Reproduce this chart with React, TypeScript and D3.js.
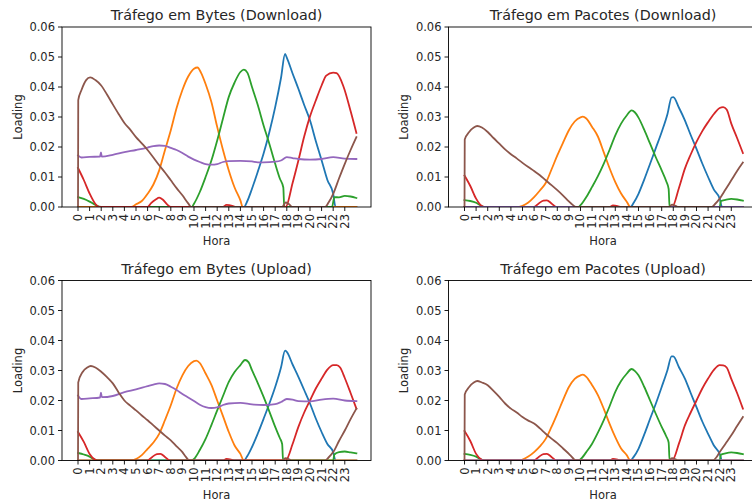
import React from "react";
import * as d3 from "d3";

type P = [number, number];

const hourTicks: number[] = [0, 1, 2, 3, 4, 5, 6, 7, 8, 9, 10, 11, 12, 13, 14, 15, 16, 17, 18, 19, 20, 21, 22, 23];
const yTicks: number[] = [0, 0.01, 0.02, 0.03, 0.04, 0.05, 0.06];
const panelTitles: string[] = [
  "Tráfego em Bytes (Download)",
  "Tráfego em Pacotes (Download)",
  "Tráfego em Bytes (Upload)",
  "Tráfego em Pacotes (Upload)",
];
const seriesColors: string[] = ["#1f77b4", "#ff7f0e", "#2ca02c", "#d62728", "#9467bd", "#8c564b"];

// Panel 1: Bytes Download
const bdBlue: P[] = [[0,0],[14.3,0],[14.6,0.002],[15,0.0061],[15.5,0.0118],[16,0.0178],[16.5,0.025],[17,0.0333],[17.5,0.043],[17.85,0.051],[18,0.0498],[18.5,0.0445],[19,0.0394],[19.5,0.034],[20,0.0289],[20.5,0.022],[21,0.0156],[21.5,0.009],[22,0.0044],[22.2,0],[24,0]];
const bdOrange: P[] = [[0,0],[4.6,0],[5,0.0009],[5.5,0.002],[6,0.0044],[6.5,0.0075],[7,0.0122],[7.5,0.019],[8,0.0256],[8.5,0.033],[9,0.039],[9.5,0.0435],[10,0.0461],[10.3,0.0465],[10.6,0.0448],[11,0.041],[11.5,0.035],[12,0.0267],[12.5,0.019],[13,0.0122],[13.5,0.0065],[14,0.0022],[14.2,0],[24,0]];
const bdGreen: P[] = [[0,0.0033],[0.5,0.0027],[1,0.0018],[1.5,0.0007],[2,0],[9.8,0],[10,0.0011],[10.5,0.005],[11,0.01],[11.5,0.0155],[12,0.0222],[12.5,0.0295],[13,0.0367],[13.5,0.0415],[14,0.045],[14.3,0.0458],[14.6,0.0448],[15,0.04],[15.5,0.034],[16,0.0272],[16.5,0.021],[17,0.0144],[17.4,0.0095],[17.7,0.0065],[17.78,0],[21.9,0],[22.1,0.0033],[22.5,0.0032],[23,0.0037],[23.5,0.0035],[24,0.003]];
const bdRed: P[] = [[0,0.013],[0.5,0.009],[1,0.0045],[1.5,0.001],[1.8,0],[6,0],[6.3,0.0013],[6.7,0.0025],[7,0.0031],[7.3,0.0025],[7.7,0.0008],[8,0],[12.5,0],[12.8,0.0007],[13.3,0.0004],[13.6,0],[17.9,0],[18.5,0.008],[19,0.0155],[19.5,0.0235],[20,0.0302],[20.5,0.0355],[21,0.0405],[21.4,0.0438],[22,0.0448],[22.3,0.0446],[22.9,0.04],[23.5,0.032],[24,0.0247]];
const bdPurple: P[] = [[0,0.0172],[0.3,0.0165],[1,0.0167],[1.9,0.0168],[1.98,0.0182],[2.05,0.0168],[3,0.0174],[4,0.0183],[5,0.019],[6,0.0198],[6.5,0.0203],[7,0.0205],[7.5,0.0204],[8,0.0197],[8.5,0.019],[9,0.018],[9.5,0.0168],[10,0.0158],[10.5,0.015],[11,0.0143],[11.5,0.0141],[12,0.0143],[12.5,0.015],[13,0.0153],[14,0.0154],[15,0.0152],[15.5,0.0149],[16,0.0149],[17,0.0151],[17.5,0.0155],[18,0.0166],[18.5,0.0163],[19,0.016],[20,0.0158],[21,0.016],[22,0.0166],[23,0.0161],[24,0.016]];
const bdBrown: P[] = [[0,0],[0.02,0.0356],[0.3,0.039],[0.7,0.0423],[1.05,0.0432],[1.5,0.0423],[2,0.0405],[2.5,0.0375],[3,0.0342],[3.5,0.031],[4,0.028],[4.5,0.0258],[5,0.0233],[5.5,0.0212],[6,0.019],[6.5,0.0165],[7,0.0139],[7.5,0.0115],[8,0.0089],[8.5,0.0063],[9,0.0039],[9.5,0.0012],[9.75,0],[17.6,0],[17.9,0.0015],[18.2,0.0009],[18.5,0],[21.3,0],[21.6,0.0015],[22,0.0044],[22.5,0.0095],[23,0.0144],[23.5,0.019],[24,0.0233]];

// Panel 2: Pacotes Download
const pdBlue: P[] = [[0,0],[14.3,0],[14.6,0.0015],[15,0.0044],[15.5,0.0092],[16,0.0144],[16.5,0.0197],[17,0.025],[17.5,0.031],[17.85,0.0365],[18,0.0366],[18.5,0.033],[19,0.0289],[19.5,0.024],[20,0.0194],[20.5,0.0145],[21,0.01],[21.5,0.0058],[22,0.0028],[22.2,0],[24,0]];
const pdOrange: P[] = [[0,0],[4.7,0],[5,0.0004],[5.5,0.0015],[6,0.0033],[6.5,0.0055],[7,0.008],[7.5,0.0125],[8,0.0172],[8.5,0.0215],[9,0.0256],[9.5,0.0285],[10,0.0299],[10.2,0.0301],[10.5,0.0295],[11,0.0267],[11.5,0.0235],[12,0.0183],[12.5,0.013],[13,0.0083],[13.5,0.0045],[14,0.0017],[14.3,0],[24,0]];
const pdGreen: P[] = [[0,0.0023],[0.5,0.002],[1,0.0014],[1.4,0.0005],[1.7,0],[9.8,0],[10,0.0006],[10.5,0.0033],[11,0.0067],[11.5,0.0103],[12,0.0144],[12.5,0.019],[13,0.0239],[13.5,0.0278],[14,0.0306],[14.4,0.0322],[14.7,0.0315],[15,0.0298],[15.5,0.0257],[16,0.0211],[16.5,0.0165],[17,0.0122],[17.4,0.0085],[17.6,0.006],[17.68,0],[22,0],[22.1,0.002],[22.5,0.0024],[23,0.0027],[23.5,0.0025],[24,0.0021]];
const pdRed: P[] = [[0,0.0105],[0.5,0.007],[1,0.0028],[1.5,0.0003],[1.7,0],[6,0],[6.4,0.0012],[6.8,0.0021],[7.1,0.0022],[7.5,0.0012],[7.9,0],[12.5,0],[12.8,0.0005],[13.2,0.0003],[13.5,0],[17.9,0],[18.5,0.0065],[19,0.0128],[19.5,0.0175],[20,0.0217],[20.5,0.0253],[21,0.0283],[21.5,0.031],[22,0.033],[22.3,0.0333],[22.6,0.0325],[23,0.0278],[23.5,0.023],[24,0.018]];
const pdPurple: P[] = [[0,0],[24,0]];
const pdBrown: P[] = [[0,0],[0.02,0.0225],[0.4,0.025],[0.8,0.0265],[1.1,0.027],[1.5,0.0265],[2,0.025],[2.5,0.023],[3,0.0211],[3.5,0.0192],[4,0.0176],[4.5,0.0162],[5,0.0147],[5.5,0.0133],[6,0.012],[6.5,0.0106],[7,0.0089],[7.5,0.0073],[8,0.0056],[8.5,0.0038],[9,0.0019],[9.3,0.0008],[9.6,0],[17.6,0],[17.9,0.0008],[18.2,0.0004],[18.4,0],[21.3,0],[21.6,0.001],[22,0.0028],[22.5,0.0058],[23,0.0089],[23.5,0.012],[24,0.0148]];

// Panel 3: Bytes Upload
const buBlue: P[] = [[0,0],[14.3,0],[14.6,0.0015],[15,0.0045],[15.5,0.009],[16,0.0139],[16.5,0.019],[17,0.0245],[17.5,0.031],[17.85,0.0366],[18,0.0362],[18.5,0.032],[19,0.0279],[19.5,0.0235],[20,0.019],[20.5,0.014],[21,0.0095],[21.5,0.0055],[22,0.0028],[22.2,0],[24,0]];
const buOrange: P[] = [[0,0],[4.6,0],[5,0.0005],[5.5,0.0018],[6,0.0039],[6.5,0.006],[7,0.0089],[7.5,0.0135],[8,0.0184],[8.5,0.024],[9,0.0284],[9.5,0.0315],[10,0.0331],[10.2,0.0333],[10.5,0.0325],[11,0.029],[11.5,0.0252],[12,0.02],[12.5,0.0148],[13,0.0095],[13.5,0.005],[14,0.0022],[14.3,0],[24,0]];
const buGreen: P[] = [[0,0.0025],[0.5,0.002],[1,0.0013],[1.4,0.0004],[1.7,0],[9.8,0],[10,0.0005],[10.5,0.0035],[11,0.0072],[11.5,0.0118],[12,0.0167],[12.5,0.0215],[13,0.0262],[13.5,0.0295],[14,0.0318],[14.4,0.0335],[14.7,0.0328],[15,0.0301],[15.5,0.0258],[16,0.0212],[16.5,0.0163],[17,0.0112],[17.4,0.0075],[17.6,0.0055],[17.68,0],[22,0],[22.1,0.002],[22.5,0.0028],[23,0.003],[23.5,0.0027],[24,0.0024]];
const buRed: P[] = [[0,0.0095],[0.5,0.0062],[1,0.0022],[1.5,0.0002],[1.7,0],[6,0],[6.4,0.0012],[6.8,0.0021],[7.1,0.0022],[7.5,0.0012],[7.9,0],[12.5,0],[12.8,0.0005],[13.2,0.0003],[13.5,0],[17.9,0],[18.5,0.0055],[19,0.0112],[19.5,0.016],[20,0.02],[20.5,0.024],[21,0.0273],[21.5,0.0303],[22,0.0318],[22.3,0.0318],[22.6,0.031],[23,0.0275],[23.5,0.0225],[24,0.0173]];
const buPurple: P[] = [[0,0.0217],[0.3,0.0205],[1,0.0207],[1.9,0.021],[1.98,0.0226],[2.05,0.0211],[3,0.0215],[4,0.0228],[5,0.0237],[6,0.0248],[6.5,0.0253],[7,0.0257],[7.5,0.0255],[8,0.0246],[8.5,0.0235],[9,0.0222],[9.5,0.021],[10,0.0198],[10.5,0.0186],[11,0.0178],[11.5,0.0175],[12,0.0177],[12.5,0.0185],[13,0.019],[14,0.0192],[15,0.0187],[16,0.0185],[17,0.0188],[17.5,0.0195],[18,0.0205],[18.5,0.0203],[19,0.0198],[20,0.0197],[21,0.0203],[22,0.0206],[23,0.02],[24,0.0198]];
const buBrown: P[] = [[0,0],[0.02,0.026],[0.4,0.0295],[0.8,0.031],[1.1,0.0315],[1.5,0.031],[2,0.0296],[2.5,0.0278],[3,0.0257],[3.5,0.0227],[4,0.02],[4.5,0.0183],[5,0.0167],[5.5,0.015],[6,0.0134],[6.5,0.0117],[7,0.01],[7.5,0.0083],[8,0.0067],[8.5,0.0047],[9,0.0028],[9.3,0.0012],[9.6,0],[17.6,0],[17.9,0.0008],[18.2,0.0004],[18.4,0],[21.3,0],[21.6,0.001],[22,0.0028],[22.5,0.0065],[23,0.01],[23.5,0.0138],[24,0.0173]];

// Panel 4: Pacotes Upload
const puBlue: P[] = [[0,0],[14.3,0],[14.6,0.0013],[15,0.0039],[15.5,0.0087],[16,0.0139],[16.5,0.019],[17,0.0245],[17.5,0.0302],[17.85,0.0347],[18,0.0347],[18.5,0.031],[19,0.0273],[19.5,0.0225],[20,0.0178],[20.5,0.013],[21,0.0089],[21.5,0.005],[22,0.0022],[22.2,0],[24,0]];
const puOrange: P[] = [[0,0],[4.7,0],[5,0.0003],[5.5,0.0013],[6,0.0028],[6.5,0.0047],[7,0.0072],[7.5,0.0112],[8,0.0156],[8.5,0.0202],[9,0.0245],[9.5,0.0272],[10,0.0284],[10.2,0.0286],[10.5,0.0279],[11,0.0251],[11.5,0.0218],[12,0.0173],[12.5,0.0123],[13,0.0078],[13.5,0.004],[14,0.0017],[14.3,0],[24,0]];
const puGreen: P[] = [[0,0.0022],[0.5,0.0019],[1,0.0013],[1.4,0.0004],[1.7,0],[9.8,0],[10,0.0004],[10.5,0.0028],[11,0.0056],[11.5,0.0093],[12,0.0134],[12.5,0.018],[13,0.0229],[13.5,0.0265],[14,0.029],[14.4,0.0305],[14.7,0.0298],[15,0.0284],[15.5,0.0245],[16,0.02],[16.5,0.0155],[17,0.0112],[17.4,0.008],[17.6,0.006],[17.68,0],[22,0],[22.1,0.0019],[22.5,0.0024],[23,0.0027],[23.5,0.0025],[24,0.0021]];
const puRed: P[] = [[0,0.0098],[0.5,0.0065],[1,0.0022],[1.5,0.0002],[1.7,0],[6,0],[6.4,0.0012],[6.8,0.0021],[7.1,0.0022],[7.5,0.0012],[7.9,0],[12.5,0],[12.8,0.0005],[13.2,0.0003],[13.5,0],[17.9,0],[18.5,0.0058],[19,0.0117],[19.5,0.016],[20,0.02],[20.5,0.024],[21,0.0273],[21.5,0.0302],[22,0.0318],[22.3,0.0317],[22.6,0.031],[23,0.0272],[23.5,0.0225],[24,0.0173]];
const puPurple: P[] = [[0,0],[24,0]];
const puBrown: P[] = [[0,0],[0.02,0.022],[0.4,0.0245],[0.8,0.026],[1.1,0.0265],[1.5,0.026],[2,0.0251],[2.5,0.0232],[3,0.0212],[3.5,0.019],[4,0.0173],[4.5,0.016],[5,0.0145],[5.5,0.0133],[6,0.0123],[6.5,0.0107],[7,0.0089],[7.5,0.0073],[8,0.0058],[8.5,0.004],[9,0.0022],[9.3,0.001],[9.6,0],[17.6,0],[17.9,0.0008],[18.2,0.0004],[18.4,0],[21.4,0],[21.7,0.001],[22,0.0028],[22.5,0.0056],[23,0.0084],[23.5,0.0115],[24,0.0145]];

const panelSeries: P[][][] = [
  [bdBlue, bdOrange, bdGreen, bdRed, bdPurple, bdBrown],
  [pdBlue, pdOrange, pdGreen, pdRed, pdPurple, pdBrown],
  [buBlue, buOrange, buGreen, buRed, buPurple, buBrown],
  [puBlue, puOrange, puGreen, puRed, puPurple, puBrown],
];

const W = 752;
const H = 502;
const PW = 309;
const PH = 180;
const lefts = [62, 448.5];
const tops = [27, 280.5];
const FONT = "DejaVu Sans, sans-serif";
const TXT = "#262626";

function Panel({ idx }: { idx: number }) {
  const left = lefts[idx % 2];
  const top = tops[Math.floor(idx / 2)];
  const x = d3.scaleLinear().domain([-1.38, 25.26]).range([left, left + PW]);
  const y = d3.scaleLinear().domain([0, 0.06]).range([top + PH, top]);
  const line = d3
    .line<P>()
    .x((d) => x(d[0]))
    .y((d) => y(d[1]))
    .curve(d3.curveMonotoneX);
  const clipId = `clip${idx}`;
  const fmt = d3.format(".2f");
  return (
    <g>
      <defs>
        <clipPath id={clipId}>
          <rect x={left} y={top - 2} width={PW} height={PH + 2} />
        </clipPath>
      </defs>
      <g clipPath={`url(#${clipId})`}>
        {panelSeries[idx].map((s, i) => (
          <path
            key={i}
            d={line(s) || ""}
            fill="none"
            stroke={seriesColors[i]}
            strokeWidth={1.8}
            strokeLinejoin="round"
            strokeLinecap="square"
          />
        ))}
      </g>
      <rect x={left} y={top} width={PW} height={PH} fill="none" stroke="#000" strokeWidth={0.9} />
      {yTicks.map((t) => (
        <g key={t}>
          <line x1={left - 4} x2={left} y1={y(t)} y2={y(t)} stroke="#000" strokeWidth={0.9} />
          <text
            x={left - 7}
            y={y(t)}
            textAnchor="end"
            dominantBaseline="central"
            fontFamily={FONT}
            fontSize={11.5}
            fill={TXT}
          >
            {fmt(t)}
          </text>
        </g>
      ))}
      {hourTicks.map((h) => (
        <g key={h}>
          <line x1={x(h)} x2={x(h)} y1={top + PH} y2={top + PH + 4} stroke="#000" strokeWidth={0.9} />
          <text
            transform={`translate(${x(h)},${top + PH + 7}) rotate(-90)`}
            textAnchor="end"
            dominantBaseline="central"
            fontFamily={FONT}
            fontSize={11.5}
            fill={TXT}
          >
            {String(h)}
          </text>
        </g>
      ))}
      <text
        x={left + PW / 2}
        y={top + PH + 38}
        textAnchor="middle"
        fontFamily={FONT}
        fontSize={11.5}
        fill={TXT}
      >
        Hora
      </text>
      <text
        transform={`translate(${left - 44.5},${top + PH / 2}) rotate(-90)`}
        textAnchor="middle"
        dominantBaseline="central"
        fontFamily={FONT}
        fontSize={11.5}
        fill={TXT}
      >
        Loading
      </text>
      <text
        x={left + PW / 2}
        y={top - 7}
        textAnchor="middle"
        fontFamily={FONT}
        fontSize={14.3}
        fill={TXT}
      >
        {panelTitles[idx]}
      </text>
    </g>
  );
}

export default function App() {
  return (
    <svg width={W} height={H} style={{ position: "absolute", left: 0, top: 0, background: "#fff" }}>
      <rect x={0} y={0} width={W} height={H} fill="#fff" />
      {[0, 1, 2, 3].map((i) => (
        <Panel key={i} idx={i} />
      ))}
    </svg>
  );
}
